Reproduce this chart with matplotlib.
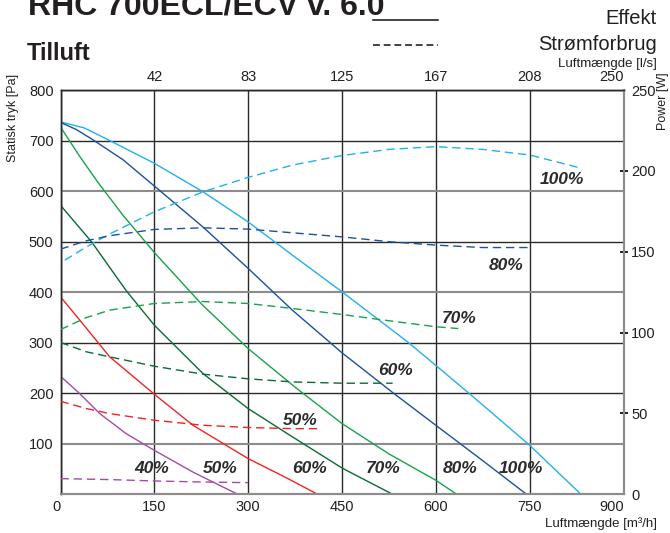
import matplotlib.pyplot as plt
from matplotlib.lines import Line2D

plt.rcParams['font.family'] = ['Liberation Sans', 'DejaVu Sans']

# speed steps
steps = ['100%', '80%', '70%', '60%', '50%', '40%']
colors = ['#1fb3ea', '#1e4f9e', '#16a34b', '#0c6a34', '#ee2424', '#a44ca3']

# static pressure curves, airflow [m3/h] -> pressure [Pa]
p_x = {
    '100%': [0, 38, 78.7, 150, 227.7, 300, 371, 450, 554.8, 600, 650.5, 750, 832],
    '80%': [0, 25, 50, 100, 150, 227.7, 300, 371, 450, 533.5, 600, 674.5, 745],
    '70%': [0, 30, 60, 100, 150, 225, 300, 375, 450, 525, 600, 633.5],
    '60%': [0, 50, 105, 150, 227.7, 300, 371, 450, 530.9],
    '50%': [0, 30.9, 78.7, 150, 211.7, 300, 360.6, 411],
    '40%': [0, 30.9, 62.8, 105, 150, 211.7, 249, 283.5],
}
p_y = {
    '100%': [737, 725, 700, 655, 598.7, 539, 473, 400.7, 301.7, 255, 202.6, 97, 0],
    '80%': [736, 722, 703, 662, 610, 529, 447, 364, 280, 199, 136.6, 67, 0],
    '70%': [727, 670, 617, 552, 478.5, 377, 288.4, 212, 140, 80, 27.7, 0],
    '60%': [572, 499, 403, 334.6, 239, 169.6, 113.5, 52, 0],
    '50%': [390.8, 344.5, 272, 198, 136.6, 70.6, 33, 0],
    '40%': [233.7, 199, 159.7, 120, 87, 44, 21, 0],
}

# power consumption curves, airflow [m3/h] -> power [W]
w_x = {
    '100%': [6.9, 41.5, 78.7, 150, 227.7, 300, 371, 450, 525.5, 600, 674.5, 750.5, 834],
    '80%': [0, 41.5, 78.7, 150, 227.7, 300, 371, 450, 525.5, 600, 674.5, 748],
    '70%': [0, 41.5, 78.7, 150, 227.7, 300, 371, 450, 509.6, 600, 636],
    '60%': [0, 41.5, 78.7, 150, 227.7, 300, 371, 450, 530.9],
    '50%': [0, 41.5, 78.7, 150, 227.7, 300, 371, 412.8],
    '40%': [0, 78.7, 150, 227.7, 300],
}
w_y = {
    '100%': [144.8, 153, 161, 174.7, 187, 196, 203.6, 209.5, 213.3, 215, 213.3, 209.8, 201.5],
    '80%': [151.6, 156.8, 159.9, 163.8, 164.8, 164, 161.7, 159.2, 156.2, 154.1, 152.6, 152.6],
    '70%': [101.9, 109.3, 113.9, 118, 119.2, 118, 114.9, 111.2, 108.1, 103.6, 102.5],
    '60%': [93.9, 88.1, 85, 79.2, 74.3, 71.4, 69.5, 68.7, 68.7],
    '50%': [57.5, 53, 49.9, 45.8, 42.7, 41.3, 40.6, 40.6],
    '40%': [9.7, 9.1, 8.25, 7.6, 7.2],
}

# curve labels (airflow, pressure)
label_text = ['100%', '80%', '70%', '60%', '50%',
              '40%', '50%', '60%', '70%', '80%', '100%']
label_x = [802, 713, 637, 535, 383.5, 146, 256, 398, 515, 639, 736]
label_y = [622, 452, 348, 245.5, 146.5, 51, 51, 51, 51, 51, 51]

x_ticks = [0, 150, 300, 450, 600, 750, 900]
x_labels = ['0', '150', '300', '450', '600', '750', '900']
top_labels = ['42', '83', '125', '167', '208', '250']
y_ticks = [0, 100, 200, 300, 400, 500, 600, 700, 800]
y_labels = ['', '100', '200', '300', '400', '500', '600', '700', '800']
w_ticks = [0, 50, 100, 150, 200, 250]

txt = '#231f20'
dark = '#2a2a2a'
grey = '#8c8c8c'

fig = plt.figure(figsize=(6.7, 5.33), dpi=100)
ax = fig.add_axes([0.0903, 0.0726, 0.8403, 0.7585])
ax2 = ax.twinx()

for s, c in zip(steps, colors):
    ax.plot(p_x[s], p_y[s], color=c, lw=1.0, zorder=3)
    ax2.plot(w_x[s], w_y[s], color=c, lw=1.0, linestyle=(0, (6, 3.5)), zorder=3)

for t, x, y in zip(label_text, label_x, label_y):
    ax.text(x, y, t, ha='center', va='center', fontsize=12.5,
            fontweight='bold', fontstyle='italic', color='#2b2b2b', zorder=4)

ax.set_xlim(0, 900)
ax.set_ylim(0, 800)
ax2.set_ylim(0, 250)

ax.set_xticks(x_ticks)
ax.set_xticklabels(x_labels)
ax.set_yticks(y_ticks)
ax.set_yticklabels(y_labels)
ax.tick_params(axis='both', length=0, labelsize=10.5, labelcolor=txt)
ax.tick_params(axis='x', pad=4)
ax.tick_params(axis='y', pad=5)
xl = ax.get_xticklabels()
xl[0].set_ha('right')
xl[-1].set_ha('right')

ax.grid(True)
for tk, v in zip(ax.yaxis.get_major_ticks(), y_ticks):
    if v in (100, 400, 600):
        tk.gridline.set_color(grey)
        tk.gridline.set_linewidth(1.5)
    else:
        tk.gridline.set_color(dark)
        tk.gridline.set_linewidth(1.0)
for tk in ax.xaxis.get_major_ticks():
    tk.gridline.set_color(dark)
    tk.gridline.set_linewidth(1.0)
ax.set_axisbelow(True)

# top axis in l/s
top = ax.secondary_xaxis('top', functions=(lambda q: q / 3.6, lambda q: q * 3.6))
top.set_xticks([v / 3.6 for v in x_ticks[1:]])
top.set_xticklabels(top_labels)
top.tick_params(length=0, labelsize=10.5, labelcolor=txt, pad=4)
top.spines['top'].set_visible(False)
top.get_xticklabels()[-1].set_ha('right')

ax2.set_yticks(w_ticks)
ax2.tick_params(axis='y', direction='inout', length=6, width=1.3,
                color='#111111', labelsize=10.5, labelcolor=txt, pad=2.5)
wt = ax2.yaxis.get_major_ticks()
for tk in (wt[0], wt[-1]):
    tk.tick1line.set_visible(False)
    tk.tick2line.set_visible(False)

for a in (ax, ax2):
    a.spines['left'].set_color(dark)
    a.spines['left'].set_linewidth(1.0)
    a.spines['top'].set_color(dark)
    a.spines['top'].set_linewidth(1.0)
    a.spines['bottom'].set_color(grey)
    a.spines['bottom'].set_linewidth(1.5)
    a.spines['right'].set_color(grey)
    a.spines['right'].set_linewidth(1.5)

# headings and axis titles
fig.text(0.0418, 0.9719, 'RHC 700ECL/ECV v. 6.0', fontsize=23,
         fontweight='bold', color=txt, va='baseline')
fig.text(0.0403, 0.8874, 'Tilluft', fontsize=17, fontweight='bold',
         color=txt, va='baseline')
fig.text(0.9806, 0.955, 'Effekt', fontsize=14.5, color=txt,
         ha='right', va='baseline')
fig.text(0.9806, 0.906, 'Strømforbrug', fontsize=14.5, color=txt,
         ha='right', va='baseline')
fig.text(0.9806, 0.874, 'Luftmængde [l/s]', fontsize=9.5, color=txt,
         ha='right', va='baseline')
fig.text(0.9806, 0.012, 'Luftmængde [m³/h]', fontsize=9.5, color=txt,
         ha='right', va='baseline')
fig.text(0.02, 0.7786, 'Statisk tryk [Pa]', fontsize=9, color=txt,
         rotation=90, ha='center', va='center')
fig.text(0.9896, 0.8105, 'Power [W]', fontsize=9, color=txt,
         rotation=90, ha='center', va='center')

# legend strokes
fig.add_artist(Line2D([0.5567, 0.6537], [0.9625, 0.9625], color='#111111', lw=1.1))
fig.add_artist(Line2D([0.5567, 0.6537], [0.9156, 0.9156], color='#111111', lw=1.1,
                      linestyle=(0, (4.5, 2.5))))

fig.savefig('out.png', dpi=100)
